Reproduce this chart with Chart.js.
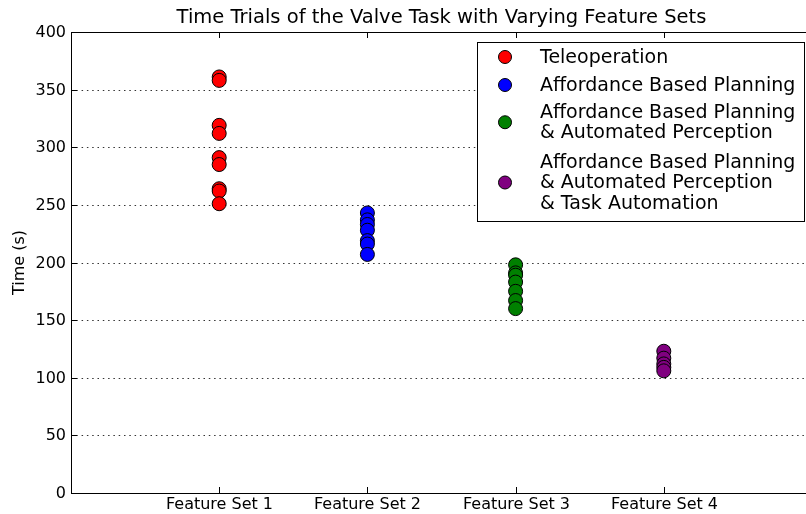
<!DOCTYPE html>
<html>
<head>
<meta charset="utf-8">
<script src="https://cdn.jsdelivr.net/npm/chart.js@4"></script>
<style>
  html, body { margin: 0; padding: 0; background: #fff; overflow: hidden; }
  #wrap { width: 820px; height: 514px; position: relative; }
</style>
</head>
<body>
<div id="wrap"><canvas id="chart"></canvas></div>
<script>
// values
var featureSets = ["Feature Set 1", "Feature Set 2", "Feature Set 3", "Feature Set 4"];
var teleoperation = [361, 358, 319, 312, 291, 285, 264, 262, 251];
var affordance = [243, 237, 233, 228, 219, 216, 207];
var affordancePerception = [198, 191, 189, 183, 175, 167, 160];
var affordanceAutomation = [123, 117, 112, 109, 106];
var yTicks = [0, 50, 100, 150, 200, 250, 300, 350, 400];

var seriesNames = [
    ["Teleoperation"],
    ["Affordance Based Planning"],
    ["Affordance Based Planning", "& Automated Perception"],
    ["Affordance Based Planning", "& Automated Perception", "& Task Automation"]
];
var colors = ["#ff0000", "#0000ff", "#008000", "#800080"];
var FONT = "'DejaVu Sans', sans-serif";

function toPoints(values, x) {
    return values.map(function (v) { return { x: x, y: v }; });
}

var allSeries = [teleoperation, affordance, affordancePerception, affordanceAutomation];
var datasets = allSeries.map(function (vals, i) {
    return {
        label: seriesNames[i].join(" "),
        data: toPoints(vals, i + 1),
        backgroundColor: colors[i],
        borderColor: "#000",
        borderWidth: 1,
        pointRadius: 7,
        pointHoverRadius: 7
    };
});

// frame, inward ticks, labels, title and the boxed legend, matplotlib style
var decorations = {
    id: "decorations",
    beforeDatasetsDraw: function (chart) {
        var ctx = chart.ctx, a = chart.chartArea;
        var ys = chart.scales.y;
        ctx.save();
        ctx.strokeStyle = "#333";
        ctx.lineWidth = 1;
        ctx.setLineDash([1.5, 3.8]);
        yTicks.forEach(function (t) {
            if (t === 0 || t === 400) return;
            var y = Math.round(ys.getPixelForValue(t)) + 0.5;
            ctx.beginPath(); ctx.moveTo(a.left, y); ctx.lineTo(a.right, y); ctx.stroke();
        });
        ctx.restore();
    },
    afterDraw: function (chart) {
        var ctx = chart.ctx, a = chart.chartArea;
        var xs = chart.scales.x, ys = chart.scales.y;
        ctx.save();
        ctx.strokeStyle = "#000";
        ctx.lineWidth = 1;
        ctx.strokeRect(Math.round(a.left) + 0.5, Math.round(a.top) + 0.5,
                       Math.round(a.right - a.left), Math.round(a.bottom - a.top));
        ctx.fillStyle = "#000";
        ctx.font = "16px " + FONT;
        ctx.textAlign = "center";
        ctx.textBaseline = "middle";
        // ticks pointing inward, with category labels below
        for (var i = 1; i <= 4; i++) {
            var x = Math.round(xs.getPixelForValue(i)) + 0.5;
            ctx.beginPath();
            ctx.moveTo(x, a.bottom); ctx.lineTo(x, a.bottom - 6);
            ctx.moveTo(x, a.top); ctx.lineTo(x, a.top + 6);
            ctx.stroke();
            ctx.fillText(featureSets[i - 1], x, a.bottom + 12);
        }
        ctx.textAlign = "right";
        yTicks.forEach(function (t) {
            var y = Math.round(ys.getPixelForValue(t)) + 0.5;
            ctx.beginPath();
            ctx.moveTo(a.left, y); ctx.lineTo(a.left + 6, y);
            ctx.moveTo(a.right, y); ctx.lineTo(a.right - 6, y);
            ctx.stroke();
            ctx.fillText(String(t), a.left - 5, y);
        });

        // axis title
        ctx.save();
        ctx.translate(20, (a.top + a.bottom) / 2);
        ctx.rotate(-Math.PI / 2);
        ctx.textAlign = "center";
        ctx.fillText("Time (s)", 0, 0);
        ctx.restore();

        // title
        ctx.font = "19.5px " + FONT;
        ctx.textAlign = "center";
        ctx.fillText("Time Trials of the Valve Task with Varying Feature Sets", (a.left + a.right) / 2, 18);

        // legend
        var bx = 477.5, by = 42.5, bw = 327, bh = 179;
        ctx.fillStyle = "#fff";
        ctx.fillRect(bx, by, bw, bh);
        ctx.strokeRect(bx, by, bw, bh);
        ctx.font = "19px " + FONT;
        ctx.textAlign = "left";
        var lineH = 20.5;
        var rowTops = [58, 86, 113, 163];
        seriesNames.forEach(function (lines, i) {
            var top = rowTops[i];
            var mid = top + (lines.length - 1) * lineH / 2;
            ctx.beginPath();
            ctx.arc(505, mid - 1, 6.5, 0, Math.PI * 2);
            ctx.fillStyle = colors[i];
            ctx.fill();
            ctx.stroke();
            ctx.fillStyle = "#000";
            lines.forEach(function (txt, j) {
                ctx.fillText(txt, 540, top + j * lineH);
            });
        });
        ctx.restore();
    }
};

window.onload = function () {
    var canvas = document.getElementById("chart");
    new Chart(canvas.getContext("2d"), {
        type: "scatter",
        data: { datasets: datasets },
        options: {
            responsive: true,
            maintainAspectRatio: false,
            animation: false,
            layout: { padding: { top: 32, left: 0, right: 4, bottom: 0 } },
            plugins: {
                legend: { display: false },
                tooltip: { enabled: false },
                title: { display: false }
            },
            scales: {
                x: {
                    type: "linear",
                    min: 0,
                    max: 5,
                    border: { display: false },
                    grid: { display: false },
                    ticks: { display: false },
                    afterFit: function (s) { s.height = 21; }
                },
                y: {
                    min: 0,
                    max: 400,
                    border: { display: false },
                    grid: { display: false },
                    ticks: { display: false, stepSize: 50 },
                    afterFit: function (s) { s.width = 71; }
                }
            }
        },
        plugins: [decorations]
    });
};
</script>
</body>
</html>
